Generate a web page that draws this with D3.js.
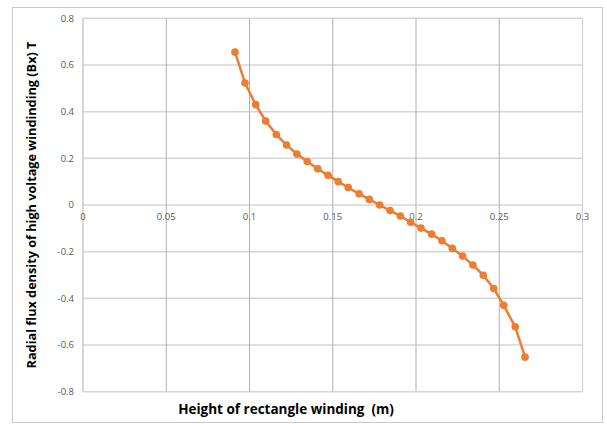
<!DOCTYPE html>
<html>
<head>
<meta charset="utf-8">
<script src="https://cdn.jsdelivr.net/npm/d3@7"></script>
<style>
  html, body { margin: 0; padding: 0; background: #fff; }
  svg { display: block; }
  .title { white-space: pre; }
</style>
</head>
<body>
<svg id="chart" width="607" height="424"></svg>
<script>
// Data
const heights = [0.0913, 0.0973, 0.1037, 0.1097, 0.1161, 0.1223, 0.1285, 0.1347, 0.1410, 0.1472,
                 0.1533, 0.1593, 0.1658, 0.1720, 0.1782, 0.1844, 0.1906, 0.1968, 0.2030, 0.2094,
                 0.2156, 0.2218, 0.2280, 0.2342, 0.2404, 0.2467, 0.2527, 0.2596, 0.2655];
const fluxBx = [0.655, 0.523, 0.430, 0.360, 0.302, 0.257, 0.218, 0.186, 0.155, 0.127,
                0.100, 0.075, 0.048, 0.024, 0.000, -0.024, -0.047, -0.074, -0.099, -0.125,
                -0.153, -0.186, -0.219, -0.257, -0.301, -0.358, -0.430, -0.522, -0.652];
const xTicks = [0, 0.05, 0.1, 0.15, 0.2, 0.25, 0.3];
const yTicks = [-0.8, -0.6, -0.4, -0.2, 0, 0.2, 0.4, 0.6, 0.8];
const xTitle = "Height of rectangle winding  (m)";
const yTitle = "Radial flux density of high voltage windinding (Bx) T";

const svg = d3.select("#chart");
const plot = { left: 83, right: 582.5, top: 18.3, bottom: 391.7 };

// outer chart border
svg.append("rect")
  .attr("x", 12.5).attr("y", 7.5)
  .attr("width", 590).attr("height", 415)
  .attr("fill", "#fff").attr("stroke", "#c8c8c8").attr("stroke-width", 1);

const x = d3.scaleLinear().domain([0, 0.3]).range([plot.left, plot.right]);
const y = d3.scaleLinear().domain([-0.8, 0.8]).range([plot.bottom, plot.top]);

// horizontal gridlines
svg.append("g").selectAll("line").data(yTicks).join("line")
  .attr("x1", plot.left).attr("x2", plot.right)
  .attr("y1", d => y(d)).attr("y2", d => y(d))
  .attr("stroke", "#d6d6d6").attr("stroke-width", 1.5);

// vertical gridlines
svg.append("g").selectAll("line").data(xTicks).join("line")
  .attr("x1", d => x(d)).attr("x2", d => x(d))
  .attr("y1", plot.top).attr("y2", plot.bottom)
  .attr("stroke", d => d === 0.3 ? "#d0d0d0" : "#b0b0b0").attr("stroke-width", 1);

// y tick labels
const fmt = d => (d === 0 ? "0" : String(+d.toFixed(2)));
svg.append("g").selectAll("text").data(yTicks).join("text")
  .attr("x", 74).attr("y", d => y(d))
  .attr("dy", "0.35em")
  .attr("text-anchor", "end")
  .attr("font-family", "'Open Sans', 'Liberation Sans', sans-serif")
  .attr("font-size", 9.5)
  .attr("fill", "#595959")
  .text(fmt);

// x tick labels (sitting below the zero line)
svg.append("g").selectAll("text").data(xTicks).join("text")
  .attr("x", d => x(d)).attr("y", y(0) + 12)
  .attr("dy", "0.35em")
  .attr("text-anchor", "middle")
  .attr("font-family", "'Open Sans', 'Liberation Sans', sans-serif")
  .attr("font-size", 9.5)
  .attr("fill", "#595959")
  .text(fmt);

// series line
const line = d3.line().x((d, i) => x(heights[i])).y(d => y(d));
svg.append("path")
  .datum(fluxBx)
  .attr("d", line)
  .attr("fill", "none")
  .attr("stroke", "#ED7D31")
  .attr("stroke-width", 2.5)
  .attr("stroke-linejoin", "round");

// markers
svg.append("g").selectAll("circle").data(fluxBx).join("circle")
  .attr("cx", (d, i) => x(heights[i]))
  .attr("cy", d => y(d))
  .attr("r", 3.8)
  .attr("fill", "#ED7D31");

// axis titles
svg.append("text")
  .attr("class", "title")
  .attr("x", 286).attr("y", 409)
  .attr("dy", "0.35em")
  .attr("text-anchor", "middle")
  .attr("font-family", "'Open Sans', 'Liberation Sans', sans-serif")
  .attr("font-weight", "bold")
  .attr("font-size", 13.5)
  .attr("fill", "#000")
  .text(xTitle);

svg.append("text")
  .attr("class", "title")
  .attr("transform", `translate(32, ${(plot.top + plot.bottom) / 2}) rotate(-90)`)
  .attr("dy", "0.35em")
  .attr("text-anchor", "middle")
  .attr("font-family", "'Open Sans', 'Liberation Sans', sans-serif")
  .attr("font-weight", "bold")
  .attr("font-size", 12.7)
  .attr("fill", "#000")
  .text(yTitle);
</script>
</body>
</html>
